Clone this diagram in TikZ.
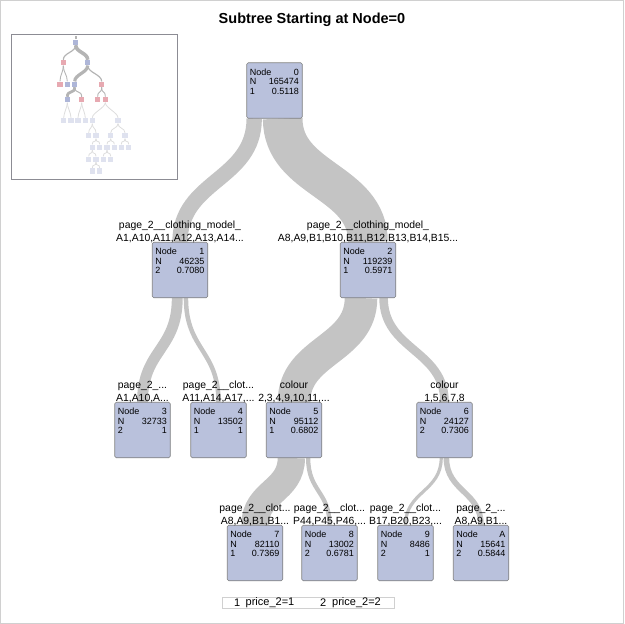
\documentclass[tikz,border=0pt]{standalone}
\usepackage{fontspec}
\setmainfont{Liberation Sans}
\usetikzlibrary{positioning,backgrounds}
\definecolor{bandgray}{HTML}{C4C4C4}
\definecolor{boxfill}{HTML}{B9C1DC}
\definecolor{boxline}{HTML}{808080}
\definecolor{framegray}{HTML}{D0D0D0}
\definecolor{insetgray}{HTML}{8C8C94}
\definecolor{miniblue}{HTML}{AEB6D8}
\definecolor{minired}{HTML}{E7A9B1}
\definecolor{minifade}{HTML}{DFE2EF}
\definecolor{miniedge}{HTML}{B4B4B4}
\definecolor{minifadeedge}{HTML}{DDDDDD}

\begin{document}
\begin{tikzpicture}[x=1pt,y=-1pt,
  tbox/.style={draw=boxline,fill=boxfill,rounded corners=1.5pt,line width=0.6pt,
    minimum width=55.5pt,minimum height=55.5pt,inner sep=0pt},
  ttext/.style={inner sep=0pt,text width=49pt,align=left,
    font=\fontsize{9}{9.3}\selectfont},
  lab/.style={inner sep=0pt,align=center,font=\fontsize{10.4}{12.5}\selectfont},
  band/.style={draw=bandgray,line cap=butt},
  mnode/.style={minimum size=5.4pt,inner sep=0pt},
  medge/.style={draw=miniedge,line width=1pt},
  mfedge/.style={draw=minifadeedge,line width=0.8pt},
  legtext/.style={inner sep=0pt,anchor=west,font=\fontsize{11}{12}\selectfont}]
\useasboundingbox (0,0) rectangle (624,624);
\draw[framegray] (0.5,0.5) rectangle (623.5,623.5);

% title
\node[font=\bfseries\fontsize{14.5}{16}\selectfont] (title) at (312,20) {Subtree Starting at Node=0};

% overview of the whole tree
\draw[insetgray,line width=0.8pt] (11.5,34.5) rectangle (177.5,179.5);
\foreach \nm/\x/\y/\c in {m0/75.7/42.3/miniblue, m1/63.3/62.7/minired, m2/87.7/62.7/miniblue,
  m3/60/84.3/minired, m4/67.3/84.3/miniblue, m5/74.7/84.3/miniblue, m6/101.7/84.3/minired,
  m7/67.3/99.7/miniblue, m8/81.7/99.7/minired, m9/97.7/99.7/minired, m10/105.3/99.7/minired,
  m11/63.7/120.7/minifade, m12/71/120.7/minifade, m13/78/120.7/minifade, m14/85.3/120.7/minifade,
  m15/92.3/120.7/minifade, m16/118/120.7/minifade,
  m17/88.7/135.7/minifade, m18/96/135.7/minifade, m19/110.7/135.7/minifade, m20/125/135.7/minifade,
  m21/92.3/147.3/minifade, m22/99.7/147.3/minifade, m23/107/147.3/minifade, m24/114.3/147.3/minifade,
  m25/121.3/147.3/minifade, m26/128.7/147.3/minifade,
  m27/88.7/159.3/minifade, m28/96/159.3/minifade, m29/103.3/159.3/minifade, m30/110.7/159.3/minifade,
  m31/92.3/171/minifade, m32/99.7/171/minifade}
{
\node[mnode,fill=\c] (\nm) at (\x,\y) {};
}
\begin{scope}[on background layer]
\draw[miniedge,line width=2pt] (m0.north) -- +(0,-3);
\foreach \a/\b/\w in {m0/m1/1.2, m0/m2/3.6, m1/m3/0.9, m1/m4/0.9, m2/m5/3.2, m2/m6/1.2,
  m5/m7/2.8, m5/m8/1, m6/m9/0.9, m6/m10/0.9}
{
\draw[medge,line width=\w pt] (\a.south) .. controls +(0,7) and +(0,-7) .. (\b.north);
}
\foreach \a/\b in {m7/m11, m7/m12, m8/m13, m8/m14, m10/m15, m10/m16, m15/m17, m15/m18,
  m16/m19, m16/m20, m18/m21, m18/m22, m19/m23, m19/m24, m20/m25, m20/m26,
  m21/m27, m21/m28, m23/m29, m23/m30, m28/m31, m28/m32}
{
\draw[mfedge] (\a.south) .. controls +(0,5) and +(0,-5) .. (\b.north);
}
\end{scope}

% tree nodes
\foreach \nm/\x/\y/\id/\n/\c/\p in {n0/274.5/90.5/0/165474/1/0.5118,
  n1/180/270/1/46235/2/0.7080, n2/368/270/2/119239/1/0.5971,
  n3/142.5/430/3/32733/2/1, n4/218.5/430/4/13502/1/1,
  n5/294/430/5/95112/1/0.6802, n6/444.5/430/6/24127/2/0.7306,
  n7/255/553/7/82110/1/0.7369, n8/329.5/553/8/13002/2/0.6781,
  n9/405.5/553/9/8486/2/1, nA/481/553/A/15641/2/0.5844}
{
\node[tbox] (\nm) at (\x,\y) {};
\node[ttext,anchor=north west] (\nm t) at ([shift={(3.2,6.3)}]\nm.north west) {Node\hfill\id\\N\hfill\n\\\c\hfill\p};
}

% split rules above the nodes
\foreach \nm/\la/\lb in {n1/{page\_2\_\_clothing\_model\_}/{A1,A10,A11,A12,A13,A14...},
  n2/{page\_2\_\_clothing\_model\_}/{A8,A9,B1,B10,B11,B12,B13,B14,B15...},
  n3/{page\_2\_...}/{A1,A10,A...}, n4/{page\_2\_\_clot...}/{A11,A14,A17,...},
  n5/{colour}/{2,3,4,9,10,11,...}, n6/{colour}/{1,5,6,7,8},
  n7/{page\_2\_\_clot...}/{A8,A9,B1,B1...}, n8/{page\_2\_\_clot...}/{P44,P45,P46,...},
  n9/{page\_2\_\_clot...}/{B17,B20,B23,...}, nA/{page\_2\_...}/{A8,A9,B1...}}
{
\node[lab,anchor=south] (\nm l) at ([yshift=-0.8pt]\nm.north) {\la\\\lb};
}

% links, width by count
\begin{scope}[on background layer]
\draw[band,line width=15.37pt] ([xshift=-20.31pt]n0.south) .. controls +(0,62) and +(0,-62) .. (n1.north);
\draw[band,line width=39.63pt] ([xshift=8.19pt]n0.south) .. controls +(0,62) and +(0,-62) .. (n2.north);
\draw[band,line width=10.88pt] ([xshift=-2.74pt]n1.south) .. controls +(0,52) and +(0,-52) .. (n3.north);
\draw[band,line width=4.49pt] ([xshift=5.95pt]n1.south) .. controls +(0,52) and +(0,-52) .. (n4.north);
\draw[band,line width=32.6pt] ([xshift=-7pt]n2.south) .. controls +(0,52) and +(0,-52) .. (n5.north);
\draw[band,line width=8.6pt] ([xshift=15.6pt]n2.south) .. controls +(0,52) and +(0,-52) .. (n6.north);
\draw[band,line width=27.29pt] ([xshift=-2.65pt]n5.south) .. controls +(0,33.5) and +(0,-33.5) .. (n7.north);
\draw[band,line width=4.32pt] ([xshift=14.15pt]n5.south) .. controls +(0,33.5) and +(0,-33.5) .. (n8.north);
\draw[band,line width=3.2pt] ([xshift=-3.3pt]n6.south) .. controls +(0,33.5) and +(0,-33.5) .. (n9.north);
\draw[band,line width=5.6pt] ([xshift=1.9pt]n6.south) .. controls +(0,33.5) and +(0,-33.5) .. (nA.north);
\end{scope}

% legend
\node[draw=framegray,minimum width=172pt,minimum height=11pt,inner sep=0pt] (legend) at (308,603) {};
\node[legtext] (lk1) at (234,603) {1};
\node[legtext] (lv1) at (245.5,603) {price\_2=1};
\node[legtext] (lk2) at (320,603) {2};
\node[legtext] (lv2) at (332,603) {price\_2=2};
\end{tikzpicture}
\end{document}
